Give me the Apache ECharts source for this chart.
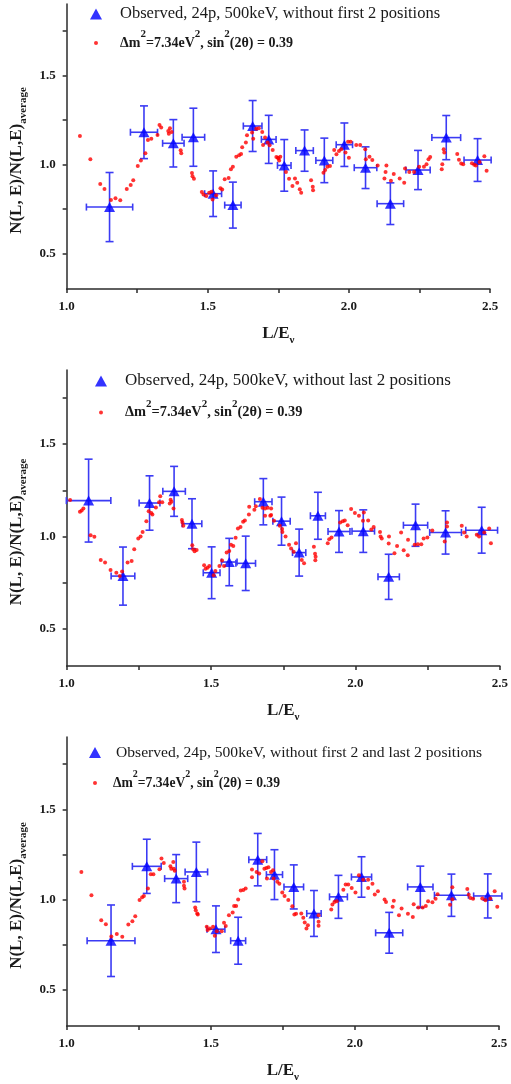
<!DOCTYPE html>
<html>
<head>
<meta charset="utf-8">
<title>N(L,E)/N(L,E)average vs L/E</title>
<script src="https://cdn.jsdelivr.net/npm/echarts@6/dist/echarts.min.js"></script>
<style>
  html, body { margin: 0; padding: 0; background: #fff; }
  #chart { width: 511px; height: 1084px; }
</style>
</head>
<body>
<div id="chart"></div>
<script>
// axis ticks / labels
const lTicks = [1.0, 1.25, 1.5, 1.75, 2.0, 2.25, 2.5];
const lLabels = [1.0, 1.5, 2.0, 2.5];
const nTicks = [0.5, 0.75, 1.0, 1.25, 1.5, 1.75];
const nLabels = [0.5, 1.0, 1.5];

const obsNames = [
  'Observed, 24p, 500keV, without first 2 positions',
  'Observed, 24p, 500keV, without last 2 positions',
  'Observed, 24p, 500keV, without first 2 and last 2 positions'
];
const fitName = 'Δm²=7.34eV², sin²(2θ) = 0.39';

// panel 1 : without first 2 positions
const p1ObsL = [1.152, 1.274, 1.378, 1.449, 1.519, 1.589, 1.659, 1.716, 1.771, 1.843, 1.913, 1.984, 2.059, 2.147, 2.245, 2.345, 2.456];
const p1ObsN = [0.760, 1.180, 1.118, 1.152, 0.835, 0.771, 1.215, 1.140, 0.994, 1.077, 1.022, 1.110, 0.981, 0.779, 0.968, 1.150, 1.024];
const p1ObsDL = [0.082, 0.048, 0.038, 0.040, 0.030, 0.029, 0.033, 0.026, 0.024, 0.031, 0.030, 0.029, 0.040, 0.047, 0.043, 0.051, 0.048];
const p1ObsDN = [0.194, 0.148, 0.133, 0.163, 0.128, 0.129, 0.143, 0.135, 0.145, 0.116, 0.125, 0.122, 0.117, 0.117, 0.110, 0.124, 0.120];
const p1FitL = [
  1.047, 1.084, 1.119, 1.134, 1.157, 1.173, 1.190, 1.213, 1.227, 1.236,
  1.252, 1.263, 1.279, 1.288, 1.300, 1.322, 1.329, 1.335, 1.360, 1.362,
  1.366, 1.372, 1.404, 1.406, 1.444, 1.446, 1.451, 1.479, 1.485, 1.495,
  1.505, 1.513, 1.517, 1.530, 1.545, 1.551, 1.560, 1.574, 1.582, 1.589,
  1.601, 1.611, 1.618, 1.622, 1.635, 1.639, 1.657, 1.661, 1.672, 1.681,
  1.693, 1.696, 1.703, 1.712, 1.719, 1.730, 1.743, 1.749, 1.750, 1.757,
  1.753, 1.777, 1.788, 1.800, 1.809, 1.817, 1.826, 1.831, 1.866, 1.872,
  1.873, 1.910, 1.916, 1.924, 1.933, 1.948, 1.956, 1.965, 1.973, 1.988,
  1.997, 2.006, 2.000, 2.026, 2.040, 2.058, 2.060, 2.073, 2.083, 2.102,
  2.133, 2.130, 2.126, 2.149, 2.159, 2.180, 2.196, 2.199, 2.214, 2.231,
  2.249, 2.266, 2.275, 2.282, 2.288, 2.329, 2.331, 2.336, 2.338, 2.384,
  2.390, 2.398, 2.405, 2.436, 2.444, 2.450, 2.463, 2.480, 2.488
];
const p1FitN = [
  1.159, 1.028, 0.889, 0.861, 0.800, 0.809, 0.798, 0.861, 0.884, 0.910,
  0.991, 1.021, 1.062, 1.137, 1.144, 1.165, 1.221, 1.206, 1.187, 1.172,
  1.202, 1.182, 1.079, 1.062, 0.951, 0.933, 0.919, 0.845, 0.830, 0.822,
  0.841, 0.846, 0.803, 0.826, 0.865, 0.858, 0.916, 0.923, 0.972, 0.987,
  1.043, 1.051, 1.058, 1.096, 1.122, 1.163, 1.178, 1.144, 1.200, 1.202,
  1.182, 1.109, 1.150, 1.122, 1.107, 1.080, 1.041, 1.037, 1.034, 1.043,
  1.021, 0.957, 0.919, 0.878, 0.921, 0.897, 0.860, 0.841, 0.910, 0.874,
  0.854, 0.953, 0.968, 0.987, 0.991, 1.080, 1.056, 1.075, 1.084, 1.066,
  1.127, 1.127, 1.037, 1.109, 1.109, 1.084, 1.028, 1.043, 1.024, 0.994,
  0.994, 0.957, 0.921, 0.908, 0.946, 0.921, 0.897, 0.976, 0.957, 0.957,
  0.987, 0.987, 1.000, 1.028, 1.041, 0.972, 1.000, 1.084, 1.066, 1.058,
  1.026, 1.004, 1.000, 1.006, 0.998, 0.994, 1.013, 1.045, 0.964
];

// panel 2 : without last 2 positions
const p2ObsL = [1.076, 1.195, 1.287, 1.372, 1.434, 1.502, 1.563, 1.620, 1.681, 1.744, 1.805, 1.870, 1.943, 2.027, 2.115, 2.208, 2.312, 2.437];
const p2ObsN = [1.194, 0.786, 1.181, 1.244, 1.069, 0.804, 0.862, 0.855, 1.188, 1.083, 0.913, 1.112, 1.027, 1.029, 0.782, 1.061, 1.022, 1.034];
const p2ObsDL = [0.077, 0.041, 0.036, 0.039, 0.034, 0.029, 0.027, 0.034, 0.030, 0.030, 0.023, 0.026, 0.038, 0.039, 0.037, 0.042, 0.055, 0.055];
const p2ObsDN = [0.224, 0.157, 0.147, 0.135, 0.135, 0.140, 0.128, 0.147, 0.125, 0.130, 0.127, 0.127, 0.113, 0.115, 0.122, 0.114, 0.117, 0.124];
const p2FitL = [
  1.012, 1.046, 1.052, 1.058, 1.083, 1.096, 1.118, 1.133, 1.152, 1.172,
  1.192, 1.184, 1.211, 1.225, 1.234, 1.248, 1.256, 1.263, 1.276, 1.284,
  1.293, 1.297, 1.309, 1.320, 1.324, 1.331, 1.357, 1.360, 1.363, 1.370,
  1.399, 1.401, 1.404, 1.435, 1.438, 1.443, 1.450, 1.476, 1.481, 1.488,
  1.494, 1.509, 1.515, 1.529, 1.538, 1.545, 1.554, 1.563, 1.569, 1.577,
  1.585, 1.593, 1.602, 1.611, 1.617, 1.631, 1.632, 1.650, 1.655, 1.669,
  1.678, 1.687, 1.687, 1.696, 1.705, 1.708, 1.708, 1.718, 1.738, 1.746,
  1.747, 1.758, 1.770, 1.777, 1.786, 1.794, 1.814, 1.822, 1.856, 1.860,
  1.862, 1.861, 1.904, 1.909, 1.917, 1.947, 1.956, 1.963, 1.973, 1.985,
  1.998, 2.012, 2.029, 2.026, 2.044, 2.055, 2.063, 2.085, 2.087, 2.091,
  2.116, 2.115, 2.135, 2.144, 2.158, 2.167, 2.182, 2.181, 2.205, 2.216,
  2.228, 2.236, 2.249, 2.266, 2.309, 2.317, 2.317, 2.368, 2.376, 2.385,
  2.420, 2.428, 2.446, 2.463, 2.469
];
const p2FitN = [
  1.197, 1.134, 1.141, 1.152, 1.007, 0.998, 0.873, 0.859, 0.819, 0.804,
  0.811, 0.786, 0.859, 0.868, 0.931, 0.989, 1.000, 1.025, 1.083, 1.137,
  1.127, 1.119, 1.157, 1.185, 1.217, 1.185, 1.179, 1.199, 1.188, 1.152,
  1.089, 1.076, 1.058, 0.953, 0.931, 0.920, 0.927, 0.844, 0.826, 0.831,
  0.840, 0.790, 0.813, 0.840, 0.870, 0.840, 0.913, 0.922, 0.955, 0.949,
  0.993, 1.043, 1.051, 1.080, 1.087, 1.119, 1.161, 1.145, 1.163, 1.203,
  1.156, 1.112, 1.152, 1.156, 1.112, 1.152, 1.116, 1.085, 1.058, 1.040,
  1.025, 1.000, 0.955, 0.935, 0.918, 0.964, 0.873, 0.855, 0.944, 0.907,
  0.891, 0.871, 0.964, 0.985, 0.994, 1.076, 1.083, 1.087, 1.061, 1.148,
  1.127, 1.112, 1.130, 1.085, 1.087, 1.038, 1.052, 1.025, 1.000, 0.989,
  1.000, 0.962, 0.909, 0.949, 1.022, 0.926, 0.982, 0.898, 0.955, 0.958,
  0.958, 0.989, 0.994, 1.032, 0.973, 1.076, 1.054, 1.058, 1.022, 1.000,
  1.009, 1.000, 1.022, 1.043, 0.964
];

// panel 3 : without first 2 and last 2 positions
const p3ObsL = [1.154, 1.278, 1.380, 1.450, 1.518, 1.595, 1.663, 1.721, 1.788, 1.858, 1.943, 2.023, 2.119, 2.227, 2.335, 2.461];
const p3ObsN = [0.772, 1.184, 1.116, 1.153, 0.836, 0.772, 1.221, 1.138, 1.070, 0.923, 1.015, 1.125, 0.816, 1.070, 1.024, 1.020];
const p3ObsDL = [0.083, 0.050, 0.040, 0.039, 0.031, 0.026, 0.031, 0.028, 0.034, 0.025, 0.031, 0.035, 0.047, 0.044, 0.059, 0.049];
const p3ObsDN = [0.198, 0.150, 0.133, 0.165, 0.129, 0.130, 0.145, 0.138, 0.122, 0.127, 0.119, 0.112, 0.113, 0.115, 0.117, 0.122];
const p3FitL = [
  1.051, 1.086, 1.120, 1.136, 1.155, 1.174, 1.193, 1.214, 1.228, 1.238,
  1.253, 1.262, 1.268, 1.282, 1.292, 1.301, 1.322, 1.329, 1.337, 1.360,
  1.363, 1.370, 1.372, 1.375, 1.407, 1.407, 1.409, 1.446, 1.448, 1.453,
  1.455, 1.486, 1.489, 1.497, 1.508, 1.514, 1.521, 1.538, 1.546, 1.552,
  1.563, 1.576, 1.581, 1.588, 1.595, 1.604, 1.613, 1.621, 1.643, 1.643,
  1.659, 1.668, 1.679, 1.686, 1.695, 1.693, 1.700, 1.709, 1.716, 1.718,
  1.731, 1.738, 1.748, 1.756, 1.769, 1.783, 1.790, 1.796, 1.814, 1.821,
  1.826, 1.832, 1.837, 1.874, 1.874, 1.874, 1.918, 1.922, 1.929, 1.937,
  1.960, 1.968, 1.977, 1.989, 2.002, 2.014, 2.029, 2.046, 2.046, 2.061,
  2.069, 2.080, 2.103, 2.108, 2.135, 2.131, 2.153, 2.162, 2.184, 2.201,
  2.204, 2.220, 2.235, 2.246, 2.254, 2.269, 2.280, 2.287, 2.330, 2.338,
  2.338, 2.390, 2.395, 2.401, 2.410, 2.442, 2.453, 2.470, 2.485, 2.494
];
const p3FitN = [
  1.153, 1.024, 0.886, 0.864, 0.796, 0.810, 0.794, 0.862, 0.880, 0.908,
  0.998, 1.013, 1.020, 1.061, 1.140, 1.140, 1.168, 1.227, 1.203, 1.184,
  1.171, 1.208, 1.171, 1.160, 1.098, 1.076, 1.061, 0.956, 0.941, 0.923,
  0.917, 0.849, 0.831, 0.840, 0.849, 0.799, 0.825, 0.825, 0.871, 0.853,
  0.913, 0.928, 0.965, 0.965, 1.000, 1.050, 1.053, 1.061, 1.123, 1.166,
  1.153, 1.144, 1.212, 1.171, 1.116, 1.175, 1.179, 1.153, 1.162, 1.116,
  1.098, 1.088, 1.039, 1.020, 0.998, 0.963, 0.917, 0.921, 0.923, 0.899,
  0.873, 0.840, 0.858, 0.913, 0.877, 0.855, 0.945, 0.972, 0.987, 0.991,
  1.055, 1.083, 1.083, 1.064, 1.039, 1.134, 1.110, 1.110, 1.064, 1.088,
  1.028, 1.046, 1.000, 0.987, 0.993, 0.960, 0.913, 0.950, 0.921, 0.904,
  0.974, 0.956, 0.956, 0.965, 0.991, 0.985, 1.004, 1.029, 0.971, 1.002,
  1.068, 1.059, 1.026, 1.009, 1.004, 1.006, 0.996, 1.006, 1.046, 0.960
];

const serif = '"Liberation Serif", "Times New Roman", serif';
const ink = '#1a1a1a';
const errColor = '#3b3bf4';

// placement of the three stacked plots (pixels)
const layout = [
  {grid: {left: 58, right: 21, top: 4, bottom: 795}, obsLeg: [90, 5.5, 13, 16.5], fitLeg: [94, 29, 17, 14]},
  {grid: {left: 62, right: 2, top: 370, bottom: 418}, obsLeg: [95, 372.5, 13, 17], fitLeg: [99, 398.5, 17, 14.4]},
  {grid: {left: 62, right: 12, top: 737, bottom: 57}, obsLeg: [89, 744.5, 10, 15.6], fitLeg: [93, 769, 11, 13.6]}
];

const panels = [
  {L: p1ObsL, N: p1ObsN, dL: p1ObsDL, dN: p1ObsDN, fitL: p1FitL, fitN: p1FitN},
  {L: p2ObsL, N: p2ObsN, dL: p2ObsDL, dN: p2ObsDN, fitL: p2FitL, fitN: p2FitN},
  {L: p3ObsL, N: p3ObsN, dL: p3ObsDL, dN: p3ObsDN, fitL: p3FitL, fitN: p3FitN}
];

function renderErrorBar(params, api) {
  const L = api.value(0), N = api.value(1), dL = api.value(2), dN = api.value(3);
  const top = api.coord([L, N + dN]);
  const bot = api.coord([L, N - dN]);
  const lft = api.coord([L - dL, N]);
  const rgt = api.coord([L + dL, N]);
  const capV = 4, capH = 3.5;
  const style = {stroke: errColor, lineWidth: 1.6};
  const seg = (x1, y1, x2, y2) => ({type: 'line', shape: {x1, y1, x2, y2}, style});
  return {
    type: 'group',
    children: [
      seg(top[0], top[1], bot[0], bot[1]),
      seg(top[0] - capV, top[1], top[0] + capV, top[1]),
      seg(bot[0] - capV, bot[1], bot[0] + capV, bot[1]),
      seg(lft[0], lft[1], rgt[0], rgt[1]),
      seg(lft[0], lft[1] - capH, lft[0], lft[1] + capH),
      seg(rgt[0], rgt[1] - capH, rgt[0], rgt[1] + capH)
    ]
  };
}

const nameRich = {
  t: {fontFamily: serif, fontWeight: 'bold', fontSize: 17, lineHeight: 24, color: ink},
  b: {fontFamily: serif, fontWeight: 'bold', fontSize: 11, lineHeight: 4, verticalAlign: 'bottom', color: ink}
};

const axisLineStyle = {color: '#2b2b2b', width: 1.5};
const tickLabel = {fontFamily: serif, fontWeight: 'bold', fontSize: 13, color: ink, margin: 11,
  formatter: v => Number(v).toFixed(1)};

const grids = [], xAxes = [], yAxes = [], legends = [], series = [];

panels.forEach((p, i) => {
  const lay = layout[i];
  grids.push(lay.grid);
  xAxes.push({
    gridIndex: i, type: 'value', min: 1.0, max: 2.5,
    name: '{t|L/E}{b|ν}', nameLocation: 'middle', nameGap: 33,
    nameTextStyle: {rich: nameRich},
    axisLine: {show: true, onZero: false, lineStyle: axisLineStyle},
    axisTick: {show: true, length: 4, customValues: lTicks, lineStyle: axisLineStyle},
    axisLabel: Object.assign({customValues: lLabels}, tickLabel),
    splitLine: {show: false}
  });
  yAxes.push({
    gridIndex: i, type: 'value', min: 0.3, max: 1.9,
    name: '{t|N(L, E)/N(L,E)}{b|average}', nameLocation: 'middle', nameGap: 25,
    nameTextStyle: {rich: nameRich, padding: [0, 28, 0, 0]},
    axisLine: {show: true, onZero: false, lineStyle: axisLineStyle},
    axisTick: {show: true, length: 4, customValues: nTicks, lineStyle: axisLineStyle},
    axisLabel: Object.assign({customValues: nLabels}, tickLabel),
    splitLine: {show: false}
  });

  const obsRows = p.L.map((v, k) => [v, p.N[k], p.dL[k], p.dN[k]]);
  const fitRows = p.fitL.map((v, k) => [v, p.fitN[k]]);

  series.push({
    type: 'custom', name: obsNames[i] + ' err', xAxisIndex: i, yAxisIndex: i,
    renderItem: renderErrorBar, encode: {x: 0, y: 1}, data: obsRows, z: 2, silent: true
  });
  series.push({
    type: 'scatter', name: obsNames[i], xAxisIndex: i, yAxisIndex: i,
    symbol: 'triangle', symbolSize: [11, 10], itemStyle: {color: '#0000ff'},
    data: obsRows.map(r => [r[0], r[1]]), z: 3
  });
  series.push({
    type: 'scatter', name: fitName, xAxisIndex: i, yAxisIndex: i,
    symbol: 'circle', symbolSize: 4, itemStyle: {color: '#ff0000'},
    data: fitRows, z: 4
  });

  const [ox, oy, opad, ofs] = lay.obsLeg;
  legends.push({
    left: ox, top: oy, padding: 0, selectedMode: false,
    data: [{name: obsNames[i], icon: 'triangle'}],
    itemWidth: 12, itemHeight: 11,
    textStyle: {fontFamily: serif, fontSize: ofs, color: ink, padding: [0, 0, 0, opad]}
  });
  const [fx, fy, fpad, ffs] = lay.fitLeg;
  legends.push({
    left: fx, top: fy, padding: 0, selectedMode: false,
    data: [{name: fitName, icon: 'circle'}],
    itemWidth: 4, itemHeight: 4,
    formatter: () => '{t|Δm}{s|2}{t|=7.34eV}{s|2}{t|, sin}{s|2}{t|(2θ) = 0.39}',
    textStyle: {
      padding: [0, 0, 0, fpad],
      rich: {
        t: {fontFamily: serif, fontWeight: 'bold', fontSize: ffs, lineHeight: 28, color: ink},
        s: {fontFamily: serif, fontWeight: 'bold', fontSize: Math.round(ffs * 0.75), lineHeight: 4, verticalAlign: 'top', color: ink}
      }
    }
  });
});

const chart = echarts.init(document.getElementById('chart'), null, {renderer: 'canvas'});
chart.setOption({
  animation: false,
  backgroundColor: '#ffffff',
  grid: grids,
  xAxis: xAxes,
  yAxis: yAxes,
  legend: legends,
  series: series
});
</script>
</body>
</html>
